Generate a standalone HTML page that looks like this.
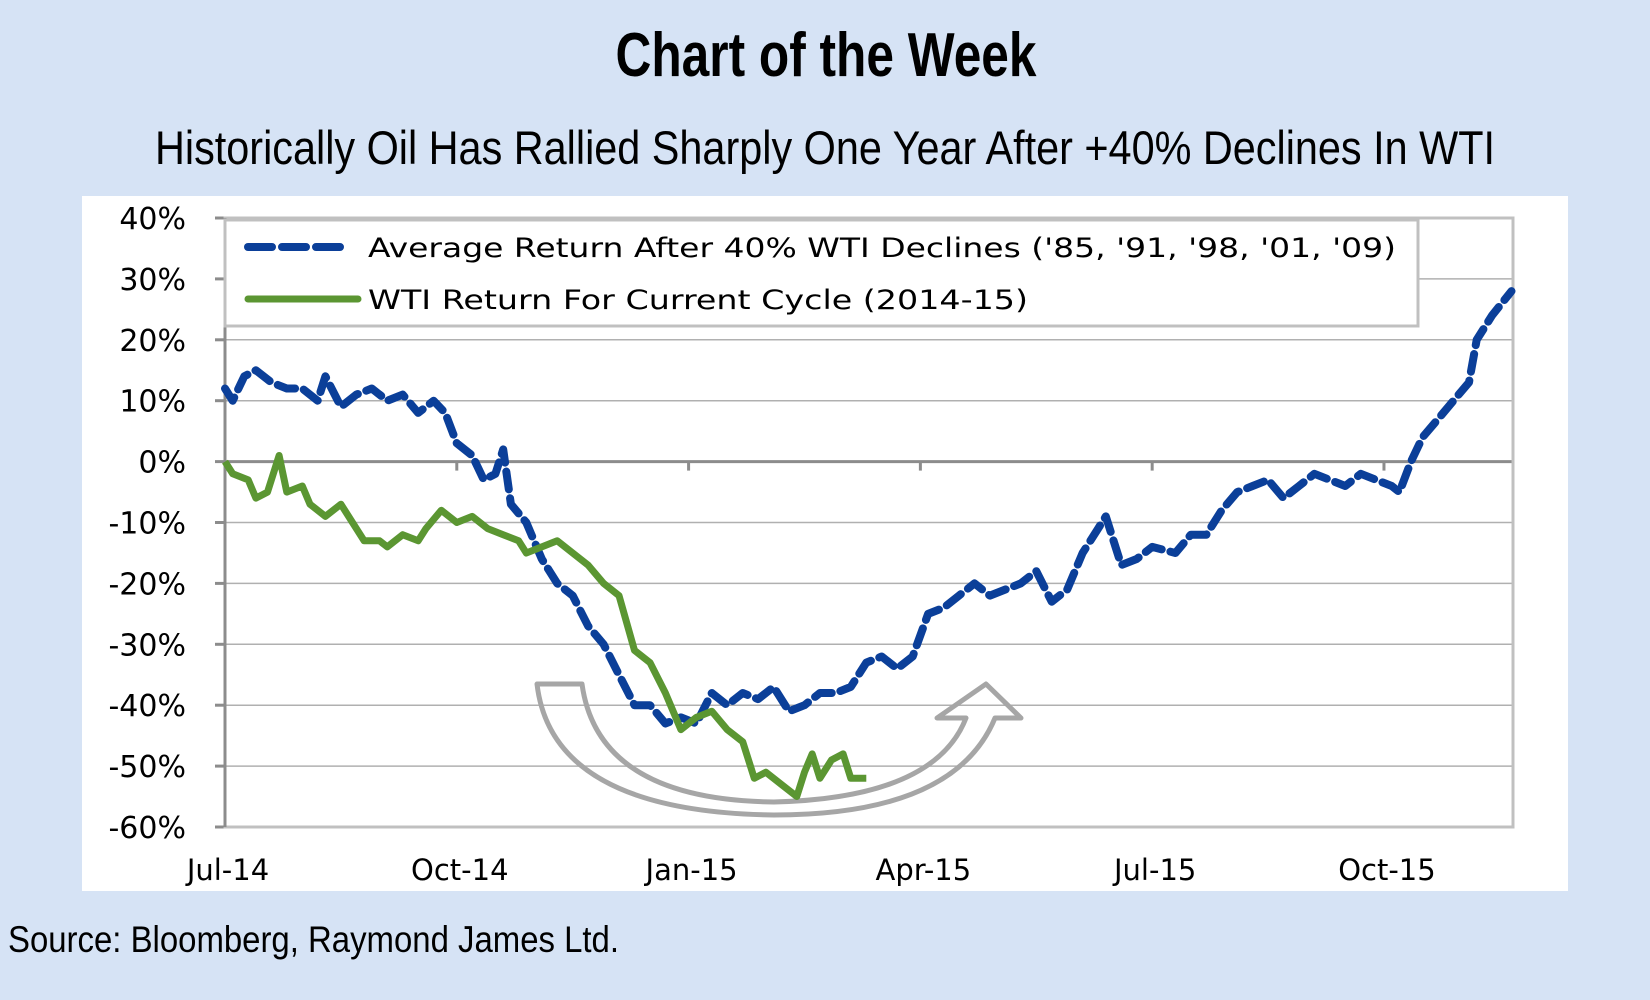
<!DOCTYPE html>
<html><head><meta charset="utf-8"><style>
html,body{margin:0;padding:0;background:#d6e3f5;}
svg{display:block;}
</style></head><body>
<svg id="chart" width="1650" height="1000" xmlns="http://www.w3.org/2000/svg">
<rect x="0" y="0" width="1650" height="1000" fill="#d6e3f5"/>
<text x="826" y="76" text-anchor="middle" font-family="'Liberation Sans Narrow','Liberation Sans',sans-serif" font-weight="bold" font-size="62" textLength="421" lengthAdjust="spacingAndGlyphs" fill="#000">Chart of the Week</text>
<text x="825" y="164" text-anchor="middle" font-family="'Liberation Sans Narrow','Liberation Sans',sans-serif" font-size="47" textLength="1340" lengthAdjust="spacingAndGlyphs" fill="#000">Historically Oil Has Rallied Sharply One Year After +40% Declines In WTI</text>
<rect x="82" y="196" width="1486" height="695" fill="#fff"/>
<g id="grid"></g>
<path d="M537,684 L582,684 Q598,800 774,802 Q935,798 966,718 L937,718 L986,684 L1021,718 L995,718 Q955,815 774,815 Q552,812 537,684 Z" fill="none" stroke="#a6a6a6" stroke-width="5" stroke-linejoin="round"/>
<g id="series"></g>
<rect x="225" y="220" width="1193" height="106" fill="#fff" stroke="#c0c0c0" stroke-width="3"/>
<line x1="248" y1="247" x2="345" y2="247" stroke="#0b3f99" stroke-width="8" stroke-dasharray="24,10" stroke-linecap="round"/>
<text x="368" y="257" font-family="'DejaVu Sans',sans-serif" font-size="27" textLength="1028" lengthAdjust="spacingAndGlyphs" fill="#000">Average Return After 40% WTI Declines ('85, '91, '98, '01, '09)</text>
<line x1="248" y1="299" x2="358" y2="299" stroke="#5b9632" stroke-width="7" stroke-linecap="round"/>
<text x="368" y="309" font-family="'DejaVu Sans',sans-serif" font-size="27" textLength="660" lengthAdjust="spacingAndGlyphs" fill="#000">WTI Return For Current Cycle (2014-15)</text>
<text x="8" y="952" font-family="'Liberation Sans Narrow','Liberation Sans',sans-serif" font-size="37" textLength="611" lengthAdjust="spacingAndGlyphs" fill="#000">Source: Bloomberg, Raymond James Ltd.</text>
</svg>
<script>
const yTicks=[40,30,20,10,0,-10,-20,-30,-40,-50,-60];
const xTickLabels=["Jul-14","Oct-14","Jan-15","Apr-15","Jul-15","Oct-15"];
const xTickMonths=[0,3,6,9,12,15];
const avgMonths=[0,0.1,0.25,0.4,0.6,0.8,1.0,1.2,1.3,1.5,1.7,1.9,2.1,2.3,2.5,2.7,2.85,3.0,3.2,3.35,3.5,3.6,3.7,3.9,4.1,4.3,4.5,4.7,4.9,5.1,5.3,5.5,5.7,5.9,6.1,6.3,6.5,6.7,6.9,7.1,7.3,7.5,7.7,7.9,8.1,8.3,8.5,8.7,8.9,9.1,9.3,9.5,9.7,9.9,10.1,10.3,10.5,10.7,10.9,11.1,11.3,11.4,11.6,11.8,12.0,12.3,12.5,12.7,12.9,13.1,13.3,13.5,13.7,13.9,14.1,14.3,14.5,14.7,14.9,15.1,15.2,15.35,15.5,15.7,15.9,16.1,16.2,16.4,16.65];
const avgValues=[12,10,14,15,13,12,12,10,14,9,11,12,10,11,8,10,8,3,1,-3,-2,2,-7,-10,-16,-20,-22,-27,-30,-35,-40,-40,-43,-42,-43,-38,-40,-38,-39,-37,-41,-40,-38,-38,-37,-33,-32,-34,-32,-25,-24,-22,-20,-22,-21,-20,-18,-23,-21,-15,-11,-9,-17,-16,-14,-15,-12,-12,-8,-5,-4,-3,-6,-4,-2,-3,-4,-2,-3,-4,-5,0,4,7,10,13,20,24,28];
const curMonths=[0,0.1,0.3,0.4,0.55,0.7,0.8,1.0,1.1,1.3,1.5,1.65,1.8,2.0,2.1,2.3,2.5,2.6,2.8,3.0,3.2,3.4,3.6,3.8,3.9,4.1,4.3,4.5,4.7,4.9,5.1,5.3,5.5,5.7,5.9,6.1,6.3,6.5,6.7,6.85,7.0,7.2,7.4,7.5,7.6,7.7,7.85,8.0,8.1,8.3];
const curValues=[0,-2,-3,-6,-5,1,-5,-4,-7,-9,-7,-10,-13,-13,-14,-12,-13,-11,-8,-10,-9,-11,-12,-13,-15,-14,-13,-15,-17,-20,-22,-31,-33,-38,-44,-42,-41,-44,-46,-52,-51,-53,-55,-51,-48,-52,-49,-48,-52,-52];

const X0=225,X1=1513,Y_TOP=218,Y_BOT=827,MMAX=16.67;
function xs(m){return X0+m*(X1-X0)/MMAX;}
function ys(v){return Y_TOP+(40-v)*(Y_BOT-Y_TOP)/100;}
const NS="http://www.w3.org/2000/svg";
function mk(tag,attrs,parent){const e=document.createElementNS(NS,tag);for(const k in attrs)e.setAttribute(k,attrs[k]);parent.appendChild(e);return e;}
const grid=document.getElementById('grid');
yTicks.forEach(v=>{
  const g=mk('line',{x1:X0,x2:X1,y1:ys(v),y2:ys(v),stroke:(v===0?'#8c8c8c':'#b0b0b0'),'stroke-width':(v===0?3:1.5)},grid);
  
  
  const t=mk('line',{x1:X0-10,x2:X0,y1:ys(v),y2:ys(v),stroke:'#8c8c8c','stroke-width':3},grid);
  
  
  const l=mk('text',{x:186,y:ys(v)+11,'text-anchor':'end','font-family':"'DejaVu Sans',sans-serif",'font-size':30,fill:'#000'},grid);
  l.textContent=v+'%';
  
  
});
const border=mk('rect',{x:X0,y:Y_TOP,width:X1-X0,height:Y_BOT-Y_TOP,fill:'none',stroke:'#c0c0c0','stroke-width':3},grid);


const ya=mk('line',{x1:X0,x2:X0,y1:Y_TOP,y2:Y_BOT,stroke:'#8c8c8c','stroke-width':3},grid);


xTickMonths.forEach((m,i)=>{
  if(m>0){const t=mk('line',{x1:xs(m),x2:xs(m),y1:ys(0),y2:ys(0)+9,stroke:'#8c8c8c','stroke-width':3},grid);
  
  }
  const l=mk('text',{x:xs(m)+3,y:880,'text-anchor':'middle','font-family':"'DejaVu Sans',sans-serif",'font-size':29,fill:'#000'},grid);
  l.textContent=xTickLabels[i];
  
  
});
const series=document.getElementById('series');
function pts(ms,vs){return ms.map((m,i)=>xs(m).toFixed(1)+','+ys(vs[i]).toFixed(1)).join(' ');}
const avg=mk('polyline',{points:pts(avgMonths,avgValues),fill:'none',stroke:'#0b3f99','stroke-width':8,'stroke-dasharray':'18,9','stroke-linecap':'round','stroke-linejoin':'round'},series);


const cur=mk('polyline',{points:pts(curMonths,curValues),fill:'none',stroke:'#5b9632','stroke-width':7,'stroke-linejoin':'round'},series);


</script>
</body></html>
